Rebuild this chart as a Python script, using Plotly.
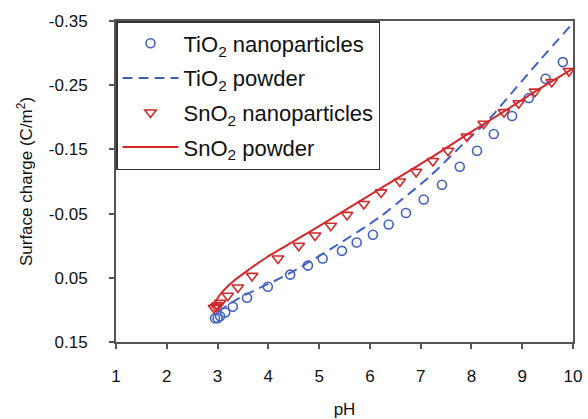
import plotly.graph_objects as go

# ---------------- data ----------------
ti_nano_ph = [2.95, 3.0, 3.05, 3.15, 3.30, 3.58, 3.99, 4.43, 4.78, 5.07, 5.45, 5.74,
              6.06, 6.37, 6.71, 7.06, 7.42, 7.77, 8.11, 8.44, 8.80, 9.13, 9.46, 9.80]
ti_nano_q = [0.113, 0.113, 0.110, 0.104, 0.095, 0.081, 0.064, 0.045, 0.031, 0.020, 0.008, -0.005,
             -0.017, -0.033, -0.051, -0.072, -0.095, -0.123, -0.148, -0.174, -0.202, -0.230, -0.260, -0.286]

ti_powder_ph = [3.0, 3.44, 4.37, 5.27, 6.20, 6.63, 7.18, 7.83, 8.30, 8.89, 9.35, 10.0]
ti_powder_q = [0.103, 0.081, 0.045, 0.003, -0.045, -0.072, -0.108, -0.158, -0.193, -0.247, -0.289, -0.347]

sn_nano_ph = [2.93, 2.97, 3.0, 3.05, 3.20, 3.40, 3.68, 4.19, 4.60, 4.92, 5.23, 5.55, 5.88,
              6.22, 6.59, 6.91, 7.24, 7.54, 7.91, 8.24, 8.64, 8.93, 9.25, 9.58, 9.92]
sn_nano_q = [0.097, 0.095, 0.093, 0.089, 0.078, 0.065, 0.047, 0.020, 0.000, -0.016, -0.031, -0.048, -0.065,
             -0.083, -0.100, -0.115, -0.132, -0.148, -0.170, -0.190, -0.208, -0.222, -0.240, -0.255, -0.272]

sn_powder_ph = [2.9, 3.05, 3.30, 3.64, 3.97, 4.29, 4.82, 5.61, 6.33, 7.18, 7.97, 8.62, 9.15, 9.54, 10.0]
sn_powder_q = [0.096, 0.076, 0.056, 0.036, 0.018, 0.003, -0.022, -0.060, -0.095, -0.136, -0.176,
               -0.208, -0.235, -0.254, -0.276]

x_ticks = [1, 2, 3, 4, 5, 6, 7, 8, 9, 10]
y_ticks = [-0.35, -0.25, -0.15, -0.05, 0.05, 0.15]
y_ticktext = ["-0.35", "-0.25", "-0.15", "-0.05", "0.05", "0.15"]

names = ["TiO<sub>2</sub> nanoparticles", "TiO<sub>2</sub> powder",
         "SnO<sub>2</sub> nanoparticles", "SnO<sub>2</sub> powder"]

BLUE = "#4061c2"
RED = "#d2282a"
FONT = "Arial, Liberation Sans, sans-serif"

fig = go.Figure()
fig.add_trace(go.Scatter(x=ti_nano_ph, y=ti_nano_q, mode="markers", name=names[0], legendgroup="a",
                         marker=dict(symbol="circle-open", size=9, color=BLUE, line=dict(width=1.6, color=BLUE))))
fig.add_trace(go.Scatter(x=ti_powder_ph, y=ti_powder_q, mode="lines", name=names[1], legendgroup="b",
                         line=dict(color=BLUE, width=2, dash="10px,6px", shape="spline", smoothing=0.8)))
fig.add_trace(go.Scatter(x=sn_nano_ph, y=sn_nano_q, mode="markers", name=names[2], legendgroup="c",
                         marker=dict(symbol="triangle-down-open", size=10, color=RED, line=dict(width=1.6, color=RED))))
fig.add_trace(go.Scatter(x=sn_powder_ph, y=sn_powder_q, mode="lines", name=names[3], legendgroup="d",
                         line=dict(color=RED, width=2, shape="spline", smoothing=0.8)))

axis_common = dict(showline=True, linecolor="#555555", linewidth=2, mirror=True,
                   ticks="outside", ticklen=5, tickwidth=1.5, tickcolor="#555555",
                   showgrid=False, zeroline=False, automargin=False,
                   tickfont=dict(family=FONT, size=17, color="#111111"))

fig.update_xaxes(range=[1, 10], tickvals=x_ticks, ticklabelstandoff=13,
                 title=dict(text="pH", font=dict(family=FONT, size=17, color="#111111"), standoff=22),
                 **axis_common)
fig.update_yaxes(range=[0.15, -0.35], tickvals=y_ticks, ticktext=y_ticktext, ticklabelstandoff=18,
                 title=dict(text="Surface charge (C/m<sup>2</sup>)", font=dict(family=FONT, size=17, color="#111111"),
                            standoff=12),
                 **axis_common)

fig.update_layout(
    width=588, height=419,
    margin=dict(l=116, r=15, t=21, b=77),
    paper_bgcolor="white", plot_bgcolor="white",
    showlegend=True,
    legend=dict(x=0, y=1, xanchor="left", yanchor="top", bgcolor="white",
                bordercolor="#333333", borderwidth=1.5,
                font=dict(family=FONT, size=22, color="#111111"),
                traceorder="grouped", tracegroupgap=3, itemwidth=56),
)

fig.write_html("out.html")
